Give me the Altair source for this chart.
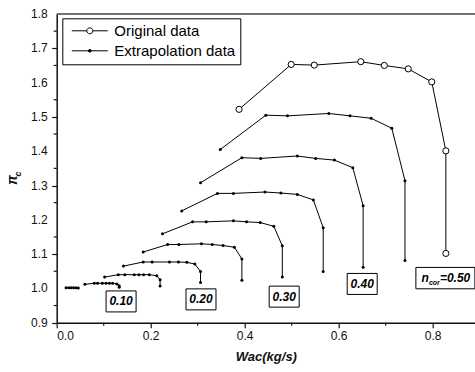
import altair as alt
import pandas as pd

# ---------------- data ----------------
x_005 = [0.020, 0.026, 0.031, 0.036, 0.041, 0.046]
y_005 = [1.002, 1.002, 1.002, 1.002, 1.002, 1.001]
x_010 = [0.060, 0.080, 0.087, 0.097, 0.105, 0.112, 0.119, 0.128, 0.133, 0.133]
y_010 = [1.012, 1.015, 1.015, 1.015, 1.015, 1.015, 1.015, 1.013, 1.008, 1.003]
x_015 = [0.102, 0.131, 0.145, 0.165, 0.175, 0.185, 0.197, 0.213, 0.220, 0.220]
y_015 = [1.033, 1.040, 1.040, 1.040, 1.040, 1.040, 1.040, 1.037, 1.025, 1.007]
x_020 = [0.142, 0.184, 0.203, 0.240, 0.259, 0.277, 0.294, 0.306, 0.306]
y_020 = [1.065, 1.077, 1.077, 1.077, 1.077, 1.076, 1.071, 1.049, 1.017]
x_025 = [0.184, 0.236, 0.260, 0.308, 0.331, 0.354, 0.378, 0.394, 0.394]
y_025 = [1.106, 1.128, 1.128, 1.130, 1.128, 1.125, 1.120, 1.086, 1.024]
x_030 = [0.225, 0.289, 0.318, 0.376, 0.404, 0.433, 0.462, 0.480, 0.480]
y_030 = [1.159, 1.194, 1.194, 1.197, 1.194, 1.192, 1.181, 1.124, 1.033]
x_035 = [0.266, 0.342, 0.376, 0.443, 0.477, 0.512, 0.546, 0.567, 0.567]
y_035 = [1.226, 1.277, 1.277, 1.281, 1.278, 1.274, 1.258, 1.177, 1.049]
x_040 = [0.306, 0.394, 0.434, 0.512, 0.551, 0.591, 0.630, 0.652, 0.652]
y_040 = [1.308, 1.381, 1.379, 1.386, 1.379, 1.374, 1.352, 1.241, 1.062]
x_045 = [0.348, 0.445, 0.491, 0.579, 0.624, 0.669, 0.713, 0.741, 0.741]
y_045 = [1.405, 1.505, 1.503, 1.510, 1.503, 1.496, 1.467, 1.314, 1.081]
# original data (n_cor = 0.50)
x_050 = [0.388, 0.499, 0.548, 0.647, 0.697, 0.748, 0.798, 0.828, 0.828]
y_050 = [1.522, 1.653, 1.651, 1.661, 1.650, 1.640, 1.602, 1.401, 1.102]

speed_labels = ["0.10", "0.20", "0.30", "0.40"]
speed_label_x = [0.137, 0.307, 0.484, 0.650]
speed_label_y = [0.962, 0.968, 0.976, 1.013]
ncor_label_x = [0.827]
ncor_label_y = [1.030]

series_names = ["Original data", "Extrapolation data"]
y_major_ticks = [0.9, 1.0, 1.1, 1.2, 1.3, 1.4, 1.5, 1.6, 1.7, 1.8]
y_tick_labels = ["0.9", "1.0", "1.1", "1.2", "1.3", "1.4", "1.5", "1.6", "1.7", "1.8"]
y_minor_ticks = [0.95, 1.05, 1.15, 1.25, 1.35, 1.45, 1.55, 1.65, 1.75]
x_major_ticks = [0.0, 0.2, 0.4, 0.6, 0.8]
x_minor_ticks = [0.1, 0.3, 0.5, 0.7]

# ---------------- tables ----------------
extrap = [("0.05", x_005, y_005), ("0.10", x_010, y_010), ("0.15", x_015, y_015),
          ("0.20", x_020, y_020), ("0.25", x_025, y_025), ("0.30", x_030, y_030),
          ("0.35", x_035, y_035), ("0.40", x_040, y_040), ("0.45", x_045, y_045)]
rows = []
for name, xs, ys in extrap:
    for i, (xv, yv) in enumerate(zip(xs, ys)):
        rows.append({"curve": name, "idx": i, "x": xv, "y": yv, "kind": "ext"})
for i, (xv, yv) in enumerate(zip(x_050, y_050)):
    rows.append({"curve": "0.50", "idx": i, "x": xv, "y": yv, "kind": "orig"})
df = pd.DataFrame(rows)

lab_df = pd.DataFrame({"t": speed_labels, "x": speed_label_x, "y": speed_label_y})
ncor_df = pd.DataFrame({"x": ncor_label_x, "y": ncor_label_y})
leg_df = pd.DataFrame({"series": series_names})
ymin_df = pd.DataFrame({"y": y_minor_ticks})
ylab_df = pd.DataFrame({"y": y_major_ticks, "t": y_tick_labels})
xmin_df = pd.DataFrame({"x": x_minor_ticks})
one = pd.DataFrame({"a": [0]})

FONT = "Liberation Sans"
INK = "#111111"
W, H = 418.3, 308.7

xscale = alt.Scale(domain=[0, 0.89], nice=False, zero=False)
yscale = alt.Scale(domain=[0.9, 1.8], nice=False, zero=False)

xaxis = alt.Axis(
    values=x_major_ticks, format=".1f", title="Wac(kg/s)", grid=False, labelOverlap=False,
    tickSize=5, labelFont=FONT, labelFontSize=12, labelColor=INK, labelPadding=3,
    titleFont=FONT, titleFontSize=13, titleFontWeight="bold", titleFontStyle="italic",
    titleColor=INK, titlePadding=9,
    domainColor=INK, domainWidth=1.5, tickColor=INK, tickWidth=1.2,
)
yaxis = alt.Axis(
    values=y_major_ticks, title=None, grid=False, labels=False,
    tickSize=5, domainColor=INK, domainWidth=1.5, tickColor=INK, tickWidth=1.2,
)

base = alt.Chart(df)

lines = base.mark_line(color="black", strokeWidth=1).encode(
    x=alt.X("x:Q", scale=xscale, axis=xaxis),
    y=alt.Y("y:Q", scale=yscale, axis=yaxis),
    detail="curve:N",
    order="idx:Q",
)

dots = base.transform_filter("datum.kind == 'ext'").mark_circle(
    color="black", size=9, opacity=1
).encode(x="x:Q", y="y:Q")

circles = base.transform_filter("datum.kind == 'orig'").mark_point(
    shape="circle", size=38, filled=True, fill="white", stroke="black",
    strokeWidth=1, opacity=1
).encode(x="x:Q", y="y:Q")

top_border = alt.Chart(one).mark_rule(color="#444444", strokeWidth=1.5).encode(
    y=alt.datum(1.8)
)

# y tick labels and minor ticks (outside the axes, like the major ticks)
y_labels = alt.Chart(ylab_df).mark_text(
    font=FONT, fontSize=12, color=INK, align="right", baseline="middle"
).encode(y="y:Q", x=alt.value(-9), text="t:N")
y_minor = alt.Chart(ymin_df).mark_rule(color=INK, strokeWidth=1.2).encode(
    y="y:Q", x=alt.value(-3), x2=alt.value(0)
)
x_minor = alt.Chart(xmin_df).mark_rule(color=INK, strokeWidth=1.2).encode(
    x="x:Q", y=alt.value(H), y2=alt.value(H + 3)
)

# boxed speed labels
boxes = alt.Chart(lab_df).mark_rect(
    fill="white", stroke="black", strokeWidth=1,
    xOffset=-15, x2Offset=15, yOffset=-10.5, y2Offset=10.5
).encode(x="x:Q", x2="x:Q", y="y:Q", y2="y:Q")
texts = alt.Chart(lab_df).mark_text(
    font=FONT, fontSize=12, fontWeight="bold", fontStyle="italic", color="black",
    align="center", baseline="middle"
).encode(x="x:Q", y="y:Q", text="t:N")

ncor_box = alt.Chart(ncor_df).mark_rect(
    fill="white", stroke="black", strokeWidth=1,
    xOffset=-29.5, x2Offset=29.5, yOffset=-10.7, y2Offset=10.7
).encode(x="x:Q", x2="x:Q", y="y:Q", y2="y:Q")
ncor_n = alt.Chart(ncor_df).mark_text(
    text="n", font=FONT, fontSize=12, fontWeight="bold", fontStyle="italic",
    color="black", align="left", baseline="middle", dx=-24, dy=0
).encode(x="x:Q", y="y:Q")
ncor_sub = alt.Chart(ncor_df).mark_text(
    text="cor", font=FONT, fontSize=7, fontWeight="bold", fontStyle="italic",
    color="black", align="left", baseline="middle", dx=-16.5, dy=4.5
).encode(x="x:Q", y="y:Q")
ncor_val = alt.Chart(ncor_df).mark_text(
    text="=0.50", font=FONT, fontSize=12, fontWeight="bold", fontStyle="italic",
    color="black", align="left", baseline="middle", dx=-5.5, dy=0
).encode(x="x:Q", y="y:Q")

# y-axis title pi_c
ytitle_pi = alt.Chart(one).mark_text(
    text="π", font=FONT, fontSize=14, fontWeight="bold", fontStyle="italic",
    color=INK, angle=270, align="center", baseline="middle"
).encode(x=alt.value(-44), y=alt.value(166))
ytitle_c = alt.Chart(one).mark_text(
    text="c", font=FONT, fontSize=9, fontWeight="bold", fontStyle="italic",
    color=INK, angle=270, align="center", baseline="middle"
).encode(x=alt.value(-38.5), y=alt.value(160))

# legend
path_orig = "M-3.6,0L-0.6,0M0.6,0L3.6,0M-0.6,0A0.6,0.6,0,1,0,0.6,0A0.6,0.6,0,1,0,-0.6,0Z"
path_ext = "M-3.6,0L3.6,0M-0.28,0A0.28,0.28,0,1,0,0.28,0A0.28,0.28,0,1,0,-0.28,0Z"
leg_common = dict(title=None)
legend_layer = alt.Chart(leg_df).transform_filter("datum.series == 'none'").mark_point(
    filled=True, strokeWidth=1, opacity=1
).encode(
    shape=alt.Shape("series:N", scale=alt.Scale(domain=series_names, range=[path_orig, path_ext]),
                    legend=alt.Legend(**leg_common)),
    fill=alt.Fill("series:N", scale=alt.Scale(domain=series_names, range=["white", "black"]),
                  legend=alt.Legend(**leg_common)),
    stroke=alt.Stroke("series:N", scale=alt.Scale(domain=series_names, range=["black", "black"]),
                      legend=alt.Legend(**leg_common)),
)

chart = alt.layer(
    top_border, lines, dots, circles, y_labels, y_minor, x_minor, boxes, texts,
    ncor_box, ncor_n, ncor_sub, ncor_val, ytitle_pi, ytitle_c, legend_layer
).properties(
    width=W, height=H,
    autosize=alt.AutoSizeParams(type="none"),
    padding={"left": 56.7, "top": 14, "right": 0, "bottom": 49.3},
    background="white",
).configure_view(stroke=None).configure_legend(
    orient="none", legendX=5.6, legendY=4.3,
    strokeColor="black", strokeWidth=1, fillColor="white", cornerRadius=0,
    padding=5, rowPadding=4, symbolSize=100, symbolStrokeWidth=1,
    symbolStrokeColor="black", symbolOffset=15, labelOffset=17,
    labelFont=FONT, labelFontSize=15, labelColor="black", labelLimit=300,
)

chart.save("out.html", embed_options={"renderer": "svg", "actions": False})
